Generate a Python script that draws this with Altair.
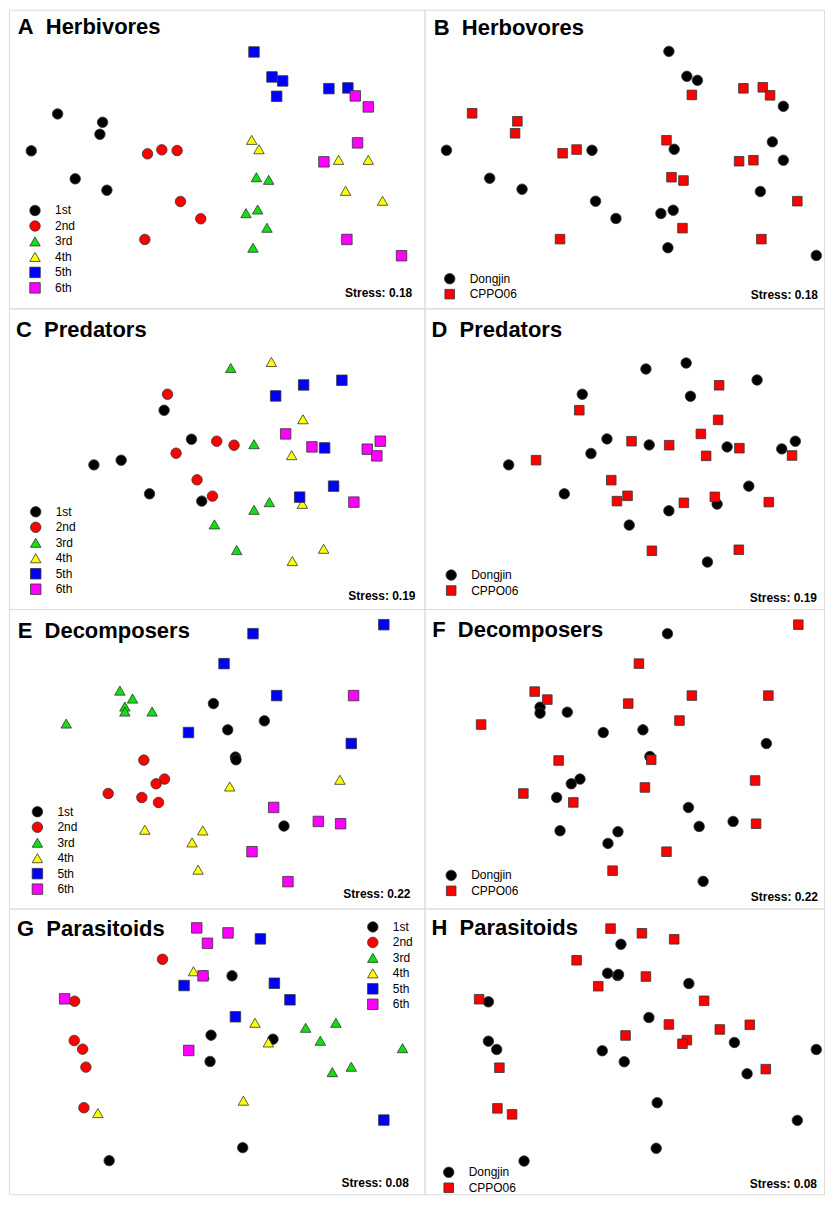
import altair as alt
import pandas as pd

# ---------------- categories ----------------
STAGES = ["1st", "2nd", "3rd", "4th", "5th", "6th"]
SITES = ["Dongjin", "CPPO06"]

# ---------------- NMDS ordination scores (panel units) -------------
herb_stage = {
    "1st": [(48.7, 104.3), (93.7, 112.7), (91.0, 124.7), (22.3, 141.3), (66.3, 169.3), (98.0, 180.7)],
    "2nd": [(138.7, 144.3), (153.0, 140.3), (168.3, 141.0), (171.7, 192.0), (192.0, 209.3), (136.0, 230.0)],
    "3rd": [(247.7, 167.7), (260.0, 170.3), (237.3, 203.7), (249.0, 200.0), (258.3, 218.3), (244.3, 238.3)],
    "4th": [(243.0, 130.3), (250.3, 139.7), (330.0, 150.3), (359.7, 150.3), (337.0, 181.3), (374.0, 191.3)],
    "5th": [(245.3, 42.3), (263.3, 67.3), (274.0, 71.3), (268.0, 86.7), (320.3, 79.0), (339.3, 78.3)],
    "6th": [(346.7, 86.3), (359.7, 97.3), (349.0, 133.3), (315.3, 152.3), (338.3, 230.0), (393.0, 246.3)],
}
herb_site = {
    "Dongjin": [(244.7, 41.7), (262.7, 66.7), (273.3, 70.7), (359.3, 96.7), (22.0, 140.7), (167.7, 140.7),
                (250.0, 139.7), (348.3, 132.3), (359.3, 150.7), (65.3, 168.7), (97.7, 179.7), (171.3, 191.7),
                (191.7, 209.0), (236.7, 204.0), (249.0, 200.7), (336.3, 182.0), (243.7, 238.3), (392.3, 246.0)],
    "CPPO06": [(47.7, 103.7), (93.0, 111.7), (90.7, 123.7), (138.3, 143.7), (152.3, 140.0), (242.3, 130.7),
               (247.3, 167.7), (259.3, 171.0), (267.7, 85.3), (319.3, 78.7), (338.7, 77.7), (346.0, 85.7),
               (315.0, 151.7), (329.3, 150.7), (373.3, 191.7), (258.3, 218.7), (135.7, 229.7), (337.3, 229.7)],
}
pred_stage = {
    "1st": [(155.3, 102.0), (182.7, 131.0), (85.0, 156.7), (112.3, 152.0), (140.7, 185.7), (193.0, 193.0)],
    "2nd": [(158.7, 86.0), (208.0, 133.0), (225.3, 137.0), (167.3, 145.0), (188.3, 171.7), (203.7, 188.0)],
    "3rd": [(222.0, 59.7), (245.3, 136.0), (260.7, 194.0), (245.3, 201.7), (205.7, 216.3), (228.0, 242.0)],
    "4th": [(262.7, 53.7), (294.3, 111.0), (283.0, 147.0), (293.7, 195.7), (315.0, 240.7), (283.7, 253.0)],
    "5th": [(295.0, 76.7), (333.3, 72.0), (267.0, 87.7), (316.0, 139.7), (325.0, 178.0), (291.0, 189.0)],
    "6th": [(277.0, 125.7), (303.3, 138.7), (371.7, 133.0), (358.7, 141.0), (368.3, 147.7), (345.3, 194.0)],
}
pred_site = {
    "Dongjin": [(221.7, 60.7), (262.0, 54.7), (333.0, 71.7), (158.0, 86.0), (266.3, 88.0), (182.7, 130.7),
                (225.0, 136.7), (303.0, 138.7), (357.7, 140.7), (371.3, 133.0), (166.7, 145.3), (84.3, 156.7),
                (140.0, 185.7), (324.7, 178.0), (293.0, 196.0), (244.7, 202.7), (205.0, 217.0), (283.3, 254.0)],
    "CPPO06": [(295.0, 77.0), (155.0, 102.0), (294.0, 111.7), (276.7, 125.7), (207.3, 133.0), (245.0, 137.0),
               (315.3, 140.0), (282.0, 147.7), (368.0, 147.3), (111.7, 152.0), (187.0, 172.0), (203.3, 187.7),
               (192.7, 193.0), (259.7, 194.7), (290.7, 188.7), (344.7, 194.0), (227.7, 242.7), (314.7, 241.7)],
}
deco_stage = {
    "1st": [(204.7, 94.7), (219.0, 121.0), (255.7, 112.0), (226.7, 148.3), (227.3, 151.0), (275.3, 217.3)],
    "2nd": [(135.0, 151.3), (155.7, 170.3), (147.3, 175.0), (99.3, 184.7), (133.0, 188.7), (149.7, 193.7)],
    "3rd": [(111.0, 81.7), (123.7, 89.7), (116.0, 97.7), (116.0, 102.7), (143.3, 102.7), (57.3, 114.7)],
    "4th": [(221.0, 177.7), (331.3, 171.0), (136.0, 221.0), (194.0, 221.7), (183.3, 233.7), (189.3, 261.0)],
    "5th": [(244.3, 24.7), (375.3, 15.7), (215.3, 54.7), (268.0, 86.7), (179.7, 123.7), (342.7, 134.7)],
    "6th": [(345.0, 86.7), (265.0, 198.7), (309.7, 212.7), (332.0, 215.0), (243.3, 243.0), (279.3, 273.0)],
}
deco_site = {
    "Dongjin": [(243.3, 24.7), (115.7, 98.3), (115.7, 104.3), (143.0, 103.3), (179.0, 123.7), (218.7, 121.0),
                (225.7, 147.7), (342.3, 134.7), (155.7, 170.3), (147.0, 175.0), (132.3, 188.7), (264.3, 198.7),
                (275.0, 217.7), (309.0, 212.7), (135.7, 222.0), (193.7, 223.0), (183.7, 234.7), (279.0, 272.7)],
    "CPPO06": [(374.3, 15.7), (214.7, 54.7), (110.3, 82.7), (123.0, 90.7), (204.0, 94.7), (267.7, 86.7),
               (344.3, 86.7), (56.7, 115.7), (255.3, 111.7), (134.3, 151.7), (227.0, 151.0), (220.7, 178.7),
               (331.0, 171.7), (99.0, 184.7), (149.0, 193.7), (332.0, 215.0), (242.3, 243.0), (188.3, 262.0)],
}
para_stage = {
    "1st": [(223.3, 67.3), (202.3, 126.7), (264.3, 130.7), (201.3, 153.0), (234.0, 239.3), (100.3, 252.3)],
    "2nd": [(153.7, 50.7), (65.7, 92.7), (65.3, 132.0), (73.7, 140.7), (77.0, 158.7), (75.0, 199.3)],
    "3rd": [(327.3, 114.3), (297.0, 119.3), (311.7, 132.3), (394.0, 139.7), (342.7, 158.3), (323.7, 163.7)],
    "4th": [(184.7, 62.7), (195.3, 66.0), (246.3, 114.3), (259.7, 134.0), (234.7, 192.3), (89.0, 204.7)],
    "5th": [(251.7, 30.3), (175.3, 77.0), (265.7, 74.7), (281.3, 91.3), (226.7, 108.3), (375.3, 211.7)],
    "6th": [(188.0, 19.3), (219.3, 24.3), (198.7, 34.7), (194.3, 67.3), (55.7, 90.3), (180.0, 142.0)],
}
para_site = {
    "Dongjin": [(196.7, 35.7), (183.3, 64.7), (193.3, 67.0), (194.3, 66.0), (264.7, 75.0), (64.0, 93.3),
                (224.7, 109.0), (64.0, 132.7), (72.3, 141.0), (178.0, 142.3), (200.0, 153.3), (310.3, 134.0),
                (323.0, 165.3), (392.3, 141.0), (233.0, 194.3), (373.3, 212.0), (232.0, 240.0), (99.7, 252.7)],
    "CPPO06": [(186.3, 20.0), (217.7, 24.7), (250.0, 30.7), (152.3, 51.7), (221.7, 68.0), (174.0, 77.7),
               (280.0, 92.3), (54.7, 90.7), (244.7, 116.0), (295.7, 121.0), (325.7, 116.3), (201.3, 127.0),
               (262.7, 131.7), (258.3, 135.3), (75.0, 159.3), (341.7, 160.7), (73.0, 200.0), (87.7, 206.0)],
}

titles = ["A\u00a0\u00a0Herbivores", "B\u00a0\u00a0Herbovores", "C\u00a0\u00a0Predators", "D\u00a0\u00a0Predators",
          "E\u00a0\u00a0Decomposers", "F\u00a0\u00a0Decomposers", "G\u00a0\u00a0Parasitoids", "H\u00a0\u00a0Parasitoids"]
stress = ["Stress: 0.18", "Stress: 0.18", "Stress: 0.19", "Stress: 0.19",
          "Stress: 0.22", "Stress: 0.22", "Stress: 0.08", "Stress: 0.08"]

# ---------------- styling ----------------
FONT = "Liberation Sans"
STAGE_STYLE = dict(colors=["#000000", "#ff0000", "#10e010", "#ffff00", "#0000ff", "#ff00ff"],
                   shapes=["circle", "circle", "triangle-up", "triangle-up", "square", "square"],
                   sizes=[110, 110, 140, 140, 92, 92])
SITE_STYLE = dict(colors=["#000000", "#ff0000"], shapes=["circle", "square"], sizes=[110, 92])

COL_W = [416, 400]
ROW_H = [299, 301, 300, 286]

# per panel layout: title (x, baseline), stress (right x, baseline), legend first symbol centre
LAYOUT = [
    dict(t=(8.7, 24.8), s=(403.7, 288.0), l=(24.8, 201.0)),
    dict(t=(9.3, 25.3), s=(394.0, 289.5), l=(24.0, 269.3)),
    dict(t=(7.0, 28.2), s=(407.0, 291.5), l=(25.5, 203.7)),
    dict(t=(7.0, 28.2), s=(393.0, 293.5), l=(25.5, 267.0)),
    dict(t=(8.7, 28.8), s=(402.0, 289.0), l=(27.2, 203.0)),
    dict(t=(7.7, 28.2), s=(394.0, 292.0), l=(25.5, 266.7)),
    dict(t=(8.0, 27.2), s=(400.3, 279.0), l=(363.0, 18.3)),
    dict(t=(7.0, 26.5), s=(393.0, 280.0), l=(23.0, 264.0)),
]


def make_df(groups, order):
    rows = []
    for g in order:
        for (x, y) in groups[g]:
            rows.append({"x": x, "y": y, "group": g})
    return pd.DataFrame(rows)


def panel(i, groups, order, style, W, H):
    lay = LAYOUT[i]
    df = make_df(groups, order)
    sym_r = 9.5 / 2
    legend = alt.Legend(
        orient="none", legendX=lay["l"][0] - sym_r, legendY=lay["l"][1] - 6,
        title=None, labelFont=FONT, labelFontSize=12, labelColor="#000",
        symbolSize=90, symbolStrokeColor="#333", symbolStrokeWidth=0.8,
        labelOffset=14, rowPadding=1.5, padding=0,
    )
    pts = alt.Chart(df).mark_point(filled=True, opacity=1, stroke="#333", strokeWidth=0.8).encode(
        x=alt.X("x:Q", scale=alt.Scale(domain=[0, W], nice=False, zero=False), axis=None),
        y=alt.Y("y:Q", scale=alt.Scale(domain=[0, H], nice=False, zero=False, reverse=True), axis=None),
        color=alt.Color("group:N", scale=alt.Scale(domain=order, range=style["colors"]), legend=legend),
        shape=alt.Shape("group:N", scale=alt.Scale(domain=order, range=style["shapes"]), legend=legend),
        size=alt.Size("group:N", scale=alt.Scale(domain=order, range=style["sizes"]), legend=None),
    )
    ttl = alt.Chart(pd.DataFrame({"t": [titles[i]]})).mark_text(
        font=FONT, fontSize=22, fontWeight="bold", align="left", baseline="alphabetic", color="#000"
    ).encode(text="t:N", x=alt.value(lay["t"][0]), y=alt.value(lay["t"][1]))
    st = alt.Chart(pd.DataFrame({"t": [stress[i]]})).mark_text(
        font=FONT, fontSize=12, fontWeight="bold", align="right", baseline="alphabetic", color="#000"
    ).encode(text="t:N", x=alt.value(lay["s"][0]), y=alt.value(lay["s"][1]))
    return alt.layer(pts, ttl, st).properties(width=W, height=H)


specs = [
    (herb_stage, STAGES, STAGE_STYLE), (herb_site, SITES, SITE_STYLE),
    (pred_stage, STAGES, STAGE_STYLE), (pred_site, SITES, SITE_STYLE),
    (deco_stage, STAGES, STAGE_STYLE), (deco_site, SITES, SITE_STYLE),
    (para_stage, STAGES, STAGE_STYLE), (para_site, SITES, SITE_STYLE),
]

panels = [panel(i, *specs[i], COL_W[i % 2], ROW_H[i // 2]) for i in range(8)]

chart = alt.concat(*panels, columns=2, spacing=0, bounds="flush").resolve_scale(
    color="independent", shape="independent", size="independent", x="independent", y="independent"
).resolve_legend(color="independent", shape="independent").properties(
    padding={"left": 0, "top": 0, "right": 0, "bottom": 0}
).configure_view(stroke="#444", strokeWidth=1.3).configure(background="white")

chart.save("out.html", embed_options={"renderer": "svg", "actions": False})
